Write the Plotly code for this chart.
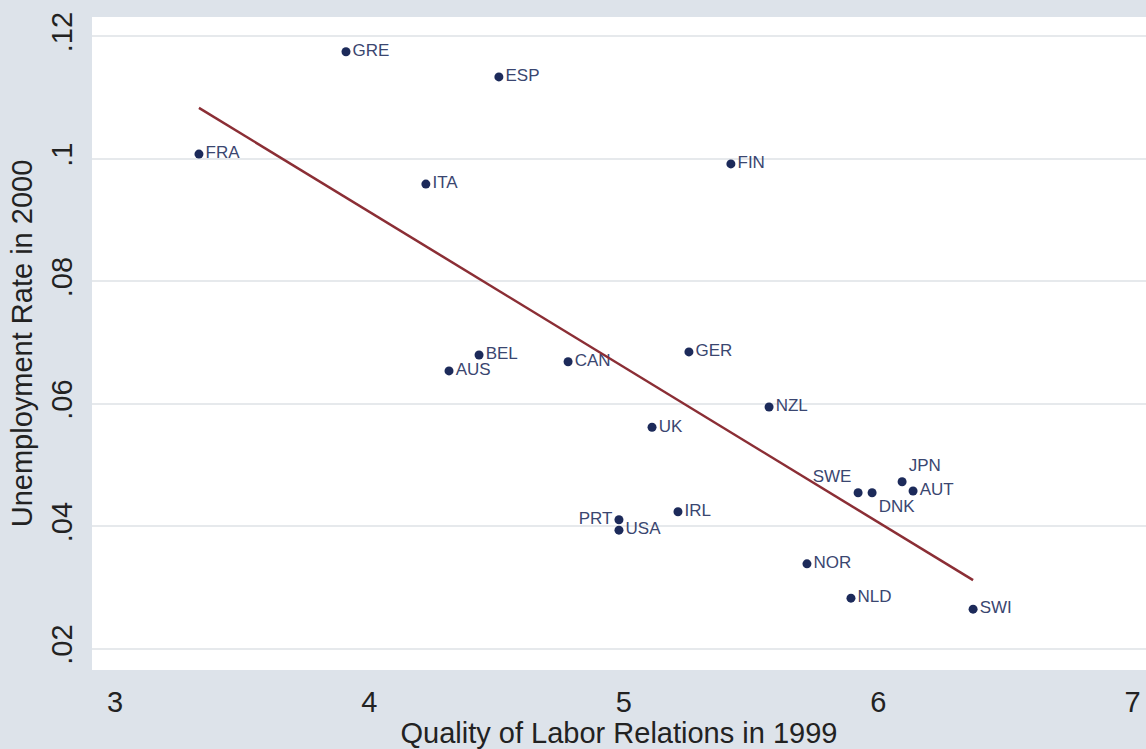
import numpy as np
import plotly.graph_objects as go

countries = ["GRE", "ESP", "FRA", "ITA", "FIN", "BEL", "AUS", "CAN", "GER", "NZL", "UK",
             "JPN", "AUT", "SWE", "DNK", "IRL", "PRT", "USA", "NOR", "NLD", "SWI"]
labor_quality = [3.908, 4.509, 3.330, 4.222, 5.421, 4.431, 4.313, 4.781, 5.256, 5.571, 5.111,
                 6.094, 6.137, 5.921, 5.976, 5.213, 4.981, 4.981, 5.720, 5.893, 6.373]
unemployment = [0.1175, 0.1134, 0.1008, 0.0959, 0.0992, 0.0680, 0.0654, 0.0669, 0.0685, 0.0595, 0.0562,
                0.0473, 0.0458, 0.0455, 0.0455, 0.0424, 0.0411, 0.0394, 0.0339, 0.0283, 0.0265]
label_pos = ["middle right"] * 11 + ["top right", "middle right", "top left", "bottom right",
                                     "middle right", "middle left", "middle right",
                                     "middle right", "middle right", "middle right"]

x_ticks = [3, 4, 5, 6, 7]
y_ticks = [0.02, 0.04, 0.06, 0.08, 0.10, 0.12]
y_tick_text = [".02", ".04", ".06", ".08", ".1", ".12"]

x = np.array(labor_quality)
y = np.array(unemployment)
slope, intercept = np.polyfit(x, y, 1)
fit_x = np.array([x.min(), x.max()])
fit_y = intercept + slope * fit_x

BG = "#dde3ea"
FONT = "Liberation Sans, Arial, sans-serif"

fig = go.Figure()
fig.add_trace(go.Scatter(
    x=labor_quality, y=unemployment, mode="markers+text",
    text=countries, textposition=label_pos,
    textfont=dict(family=FONT, size=17, color="#3a4670"),
    marker=dict(size=9, color="#1c2a5a"),
    cliponaxis=False, showlegend=False,
))
fig.add_trace(go.Scatter(
    x=fit_x, y=fit_y, mode="lines",
    line=dict(color="#8b2e35", width=2.5), showlegend=False,
))

fig.update_layout(
    width=1146, height=749,
    margin=dict(l=92, r=0, t=17, b=79),
    paper_bgcolor=BG, plot_bgcolor="white",
    font=dict(family=FONT, color="#222222"),
    xaxis=dict(
        range=[2.9096, 7.0527], tickvals=x_ticks, showgrid=False, zeroline=False,
        showline=False, ticks="outside", ticklen=6, tickcolor=BG,
        tickfont=dict(size=29),
        title=dict(text="Quality of Labor Relations in 1999", font=dict(size=29), standoff=10),
    ),
    yaxis=dict(
        range=[0.01657, 0.12318], tickvals=y_ticks, ticktext=y_tick_text, tickangle=-90,
        showgrid=True, gridcolor="#e6e9ec", gridwidth=2, zeroline=False, showline=False,
        ticks="outside", ticklen=7, tickcolor=BG,
        tickfont=dict(size=29),
        title=dict(text="Unemployment Rate in 2000", font=dict(size=29), standoff=5),
    ),
)

fig.write_html(
    "out.html",
    config={"displayModeBar": False},
    post_script="document.body.style.margin='0';document.body.style.overflow='hidden';",
)
